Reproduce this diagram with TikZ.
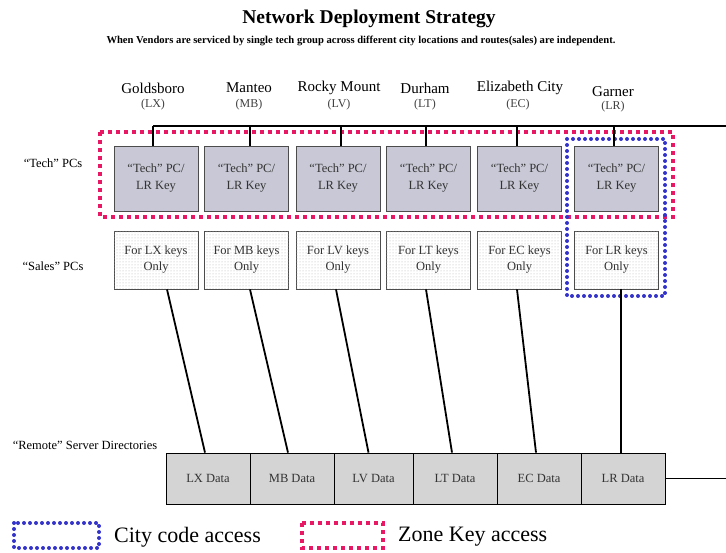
\documentclass[tikz,border=0pt]{standalone}
\usepackage{fontspec}
\setmainfont{Liberation Serif}
\usetikzlibrary{patterns}
\definecolor{zonered}{RGB}{232,24,100}
\definecolor{cityblue}{RGB}{51,51,204}
\definecolor{techfill}{RGB}{200,200,214}
\definecolor{datafill}{RGB}{212,212,212}
\begin{document}
\begin{tikzpicture}[x=1pt,y=-1pt,
  techbox/.style={draw=black!70, line width=0.8pt, fill=techfill, minimum width=84pt, minimum height=65pt, inner sep=0pt, align=center, font=\fontsize{12.5}{17}\selectfont, text=black!80},
  salesbox/.style={draw=black!70, line width=0.8pt, fill=white, postaction={pattern=dots, pattern color=gray!60}, minimum width=84pt, minimum height=58pt, inner sep=0pt, align=center, font=\fontsize{12.5}{16}\selectfont, text=black!80},
  databox/.style={draw=black, line width=0.8pt, fill=datafill, minimum height=51pt, inner sep=0pt, align=center, font=\fontsize{12.5}{14}\selectfont, text=black!80},
  city/.style={align=center, font=\fontsize{15}{17}\selectfont, inner sep=0pt},
  code/.style={font=\fontsize{12}{13}\selectfont, text=black!75, inner sep=0pt},
  sidelabel/.style={font=\fontsize{12.5}{14}\selectfont, inner sep=0pt},
  wire/.style={line width=1.8pt, black},
  zonedots/.style={draw=zonered, line width=4pt, dash pattern=on 4pt off 4pt},
  citydots/.style={draw=cityblue, line width=4pt, dash pattern=on 0pt off 6pt, line cap=round}
]
\useasboundingbox (0,0) rectangle (726,553);

% titles
\node[font=\bfseries\fontsize{19.5}{21}\selectfont] (title) at (369,19) {Network Deployment Strategy};
\node[font=\bfseries\fontsize{10.6}{12}\selectfont] (subtitle) at (361,41) {When Vendors are serviced by single tech group across different city locations and routes(sales) are independent.};

% city labels
\node[city] (c1) at (153,88) {Goldsboro};
\node[code] (k1) at (153,105) {(LX)};
\node[city] (c2) at (249,88) {Manteo};
\node[code] (k2) at (249,105) {(MB)};
\node[city] (c3) at (339,88) {Rocky Mount};
\node[code] (k3) at (339,105) {(LV)};
\node[city] (c4) at (425,88) {Durham};
\node[code] (k4) at (425,105) {(LT)};
\node[city] (c5) at (520,88) {Elizabeth City};
\node[code] (k5) at (518,105) {(EC)};
\node[city] (c6) at (613,92) {Garner};
\node[code] (k6) at (613,107) {(LR)};

% side labels
\node[sidelabel] (lt) at (53,163) {“Tech” PCs};
\node[sidelabel] (ls) at (53,266) {“Sales” PCs};
\node[sidelabel] (lr) at (85,445) {“Remote” Server Directories};

% zone rectangle
\draw[zonedots] (100,132) rectangle (673,217);

% tech boxes
\node[techbox] (t1) at (156,178.5) {“Tech” PC/\\LR Key};
\node[techbox] (t2) at (246.5,178.5) {“Tech” PC/\\LR Key};
\node[techbox] (t3) at (338,178.5) {“Tech” PC/\\LR Key};
\node[techbox] (t4) at (428.5,178.5) {“Tech” PC/\\LR Key};
\node[techbox] (t5) at (519.5,178.5) {“Tech” PC/\\LR Key};
\node[techbox] (t6) at (616.5,178.5) {“Tech” PC/\\LR Key};

% sales boxes
\node[salesbox] (s1) at (156,260) {For LX keys\\Only};
\node[salesbox] (s2) at (246.5,260) {For MB keys\\Only};
\node[salesbox] (s3) at (338,260) {For LV keys\\Only};
\node[salesbox] (s4) at (428.5,260) {For LT keys\\Only};
\node[salesbox] (s5) at (519.5,260) {For EC keys\\Only};
\node[salesbox] (s6) at (616.5,260) {For LR keys\\Only};

% city rectangle
\draw[citydots] (567,139) rectangle (665,296);

% data boxes
\node[databox, minimum width=84pt] (d1) at (208,478.5) {LX Data};
\node[databox, minimum width=84pt] (d2) at (292,478.5) {MB Data};
\node[databox, minimum width=79pt] (d3) at (373.5,478.5) {LV Data};
\node[databox, minimum width=84pt] (d4) at (455,478.5) {LT Data};
\node[databox, minimum width=84pt] (d5) at (539,478.5) {EC Data};
\node[databox, minimum width=84pt] (d6) at (623,478.5) {LR Data};

% bus
\coordinate (busL) at (153,126);
\coordinate (busR) at (726,126);
\coordinate (netR) at (726,478.5);
\draw[wire] (busL) -- (busR);
\foreach \i/\dx in {1/-3,2/3.5,3/3,4/-2.5,5/-2.5,6/-2.5}{
  \draw[wire] ([xshift=\dx pt]t\i.north) -- ([xshift=\dx pt]t\i.north |- busL);
}

% sales to data
\draw[wire] ([xshift=11pt]s1.south) -- ([xshift=-3pt]d1.north);
\draw[wire] ([xshift=3.5pt]s2.south) -- ([xshift=-4pt]d2.north);
\draw[wire] ([xshift=-2pt]s3.south) -- ([xshift=-5pt]d3.north);
\draw[wire] ([xshift=-2.5pt]s4.south) -- ([xshift=-3pt]d4.north);
\draw[wire] ([xshift=-2.5pt]s5.south) -- ([xshift=-3pt]d5.north);
\draw[wire] ([xshift=4.5pt]s6.south) -- ([xshift=-2pt]d6.north);
\draw[wire] (d6.east) -- (netR);

% legend
\draw[citydots] (14,523) rectangle (99,548);
\node[font=\fontsize{22}{24}\selectfont, anchor=west, inner sep=0pt] (lg1) at (114,537) {City code access};
\draw[zonedots] (302,523) rectangle (383,548);
\node[font=\fontsize{22}{24}\selectfont, anchor=west, inner sep=0pt] (lg2) at (398,537) {Zone Key access};
\end{tikzpicture}
\end{document}
